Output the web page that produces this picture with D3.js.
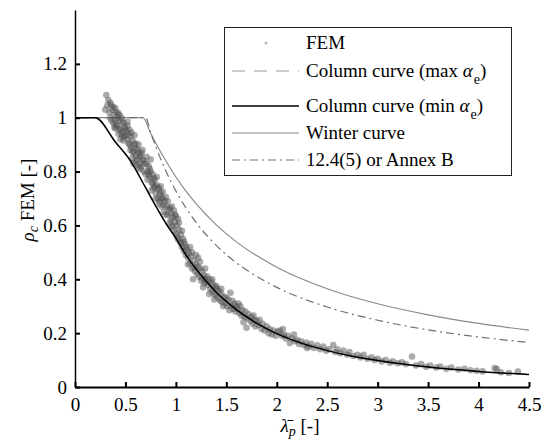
<!DOCTYPE html>
<html lang="en">
<head>
  <meta charset="UTF-8">
  <title>rho_c FEM vs lambda_p</title>
  <style>
    body { margin: 0; background: #fff; }
    svg text { font-family: "Liberation Serif", "Times New Roman", Tinos, Times, "DejaVu Serif", serif !important; }
  </style>
</head>
<body>
  <div id="chart"></div>

  <script src="https://d3js.org/d3.v7.min.js"></script>
  <script>
    // tick values / labels
    const xTicks = [0, 0.5, 1, 1.5, 2, 2.5, 3, 3.5, 4, 4.5];
    const xTickLabels = ["0", "0.5", "1", "1.5", "2", "2.5", "3", "3.5", "4", "4.5"];
    const yTicks = [0, 0.2, 0.4, 0.6, 0.8, 1, 1.2];
    const yTickLabels = ["0", "0.2", "0.4", "0.6", "0.8", "1", "1.2"];

    // Winter curve
    const winterX = [0, 0.673, 0.75, 0.8, 0.9, 1.0, 1.1, 1.2, 1.4, 1.6, 1.8, 2.0, 2.5, 3.0, 3.5, 4.0, 4.5];
    const winterY = [1, 1, 0.942, 0.906, 0.840, 0.780, 0.727, 0.681, 0.602, 0.539, 0.488, 0.445, 0.365, 0.309, 0.268, 0.236, 0.211];

    // 12.4(5) or Annex B
    const annexX = [0, 0.7, 0.75, 0.8, 0.9, 1.0, 1.2, 1.4, 1.6, 1.8, 2.0, 2.5, 3.0, 3.5, 4.0, 4.5];
    const annexY = [1, 1, 0.945, 0.893, 0.803, 0.728, 0.611, 0.526, 0.461, 0.411, 0.370, 0.297, 0.248, 0.212, 0.186, 0.165];

    // column curves
    const colX = [0, 0.2, 0.4, 0.55, 0.7, 0.8, 0.9, 1.0, 1.1, 1.2, 1.3, 1.4, 1.5, 1.6, 1.8, 2.0, 2.25, 2.5, 2.75, 3.0, 3.5, 4.0, 4.5];
    const colMinY = [1, 1, 0.91, 0.84, 0.74, 0.672, 0.608, 0.553, 0.49, 0.438, 0.393, 0.352, 0.318, 0.287, 0.237, 0.198, 0.162, 0.135, 0.114, 0.098, 0.074, 0.058, 0.046];
    const colMaxY = [1, 1, 0.91, 0.84, 0.74, 0.672, 0.608, 0.553, 0.49, 0.438, 0.393, 0.352, 0.318, 0.287, 0.237, 0.198, 0.162, 0.135, 0.114, 0.098, 0.074, 0.058, 0.046];

    // FEM results [lambda_p, rho_c]
    const fem = [
      [0.31,1.084],[0.33,1.066],[0.30,1.03],[0.36,1.047],[0.43,1.017],[0.38,0.98],[0.34,1.02],[0.35,1.00],[0.37,1.03],[0.39,1.01],
      [0.40,0.99],[0.41,1.02],[0.42,0.97],[0.44,0.99],[0.45,0.96],[0.46,1.00],[0.47,0.95],[0.48,0.98],[0.49,0.93],[0.50,0.96],
      [0.40,0.96],[0.43,0.94],[0.45,0.92],[0.38,1.04],[0.41,0.975],[0.47,0.985],[0.36,0.99],[0.44,0.955],[0.50,0.935],[0.49,0.965],
      [0.32,1.045],[0.39,0.965],[0.46,0.94],[0.48,0.915],[0.42,1.00],[0.35,1.055],[0.44,1.01],[0.40,1.035],[0.47,0.93],[0.52,0.985],
      [0.51,0.95],[0.52,0.92],[0.53,0.94],[0.54,0.90],[0.55,0.93],[0.56,0.89],[0.57,0.915],[0.58,0.87],[0.59,0.90],[0.60,0.86],
      [0.61,0.885],[0.62,0.845],[0.63,0.87],[0.64,0.83],[0.65,0.86],[0.66,0.82],[0.67,0.845],[0.68,0.80],[0.69,0.83],[0.70,0.79],
      [0.55,0.88],[0.58,0.83],[0.60,0.905],[0.62,0.88],[0.64,0.855],[0.66,0.87],[0.68,0.84],[0.53,0.905],[0.57,0.85],[0.61,0.825],
      [0.63,0.90],[0.65,0.81],[0.59,0.935],[0.54,0.955],[0.52,0.97],[0.56,0.945],[0.60,0.84],[0.67,0.88],[0.57,0.875],[0.63,0.815],
      [0.71,0.83],[0.72,0.80],[0.73,0.82],[0.74,0.78],[0.75,0.80],[0.76,0.76],[0.77,0.79],[0.78,0.74],[0.79,0.77],[0.80,0.72],
      [0.81,0.75],[0.82,0.70],[0.83,0.74],[0.84,0.69],[0.85,0.72],[0.86,0.67],[0.87,0.70],[0.88,0.65],[0.89,0.69],[0.90,0.64],
      [0.72,0.77],[0.74,0.81],[0.76,0.73],[0.78,0.775],[0.80,0.70],[0.82,0.735],[0.84,0.715],[0.86,0.70],[0.88,0.675],[0.75,0.845],
      [0.79,0.745],[0.83,0.68],[0.71,0.855],[0.77,0.755],[0.81,0.78],[0.85,0.745],[0.73,0.79],[0.87,0.725],
      [0.91,0.67],[0.92,0.64],[0.93,0.66],[0.94,0.61],[0.95,0.645],[0.96,0.60],[0.97,0.63],[0.98,0.58],[0.99,0.615],[1.00,0.57],
      [1.01,0.60],[1.02,0.55],[1.03,0.585],[1.04,0.54],[1.05,0.565],[1.06,0.52],[1.07,0.55],[1.08,0.505],[1.09,0.53],[1.10,0.49],
      [0.92,0.69],[0.95,0.62],[0.97,0.595],[0.99,0.64],[1.01,0.56],[1.03,0.61],[1.05,0.535],[1.08,0.54],[0.94,0.665],[1.00,0.635],
      [0.96,0.67],[0.98,0.655],[1.02,0.625],[1.06,0.58],[0.90,0.705],[1.10,0.52],
      [1.11,0.51],[1.12,0.48],[1.13,0.50],[1.14,0.46],[1.15,0.485],[1.16,0.44],[1.17,0.40],[1.18,0.47],[1.19,0.43],[1.20,0.455],
      [1.21,0.42],[1.22,0.48],[1.23,0.41],[1.24,0.44],[1.25,0.395],[1.26,0.43],[1.27,0.37],[1.28,0.415],[1.29,0.44],[1.30,0.39],
      [1.14,0.52],[1.18,0.445],[1.22,0.445],[1.26,0.405],[1.12,0.455],[1.29,0.40],[1.16,0.50],[1.20,0.49],[1.24,0.465],[1.28,0.385],
      [1.31,0.41],[1.32,0.38],[1.33,0.40],[1.34,0.365],[1.35,0.39],[1.36,0.355],[1.37,0.38],[1.38,0.345],[1.39,0.37],[1.40,0.34],
      [1.41,0.365],[1.42,0.33],[1.43,0.355],[1.44,0.32],[1.45,0.345],[1.46,0.315],[1.47,0.30],[1.48,0.335],[1.49,0.31],[1.50,0.33],
      [1.51,0.30],[1.52,0.325],[1.54,0.35],[1.55,0.30],[1.56,0.32],[1.57,0.29],[1.58,0.31],[1.59,0.28],[1.60,0.30],[1.36,0.40],
      [1.33,0.345],[1.40,0.375],[1.45,0.365],[1.53,0.285],[1.38,0.325],
      [1.61,0.29],[1.62,0.31],[1.63,0.275],[1.64,0.30],[1.65,0.265],[1.66,0.285],[1.68,0.26],[1.69,0.28],[1.70,0.22],[1.71,0.255],
      [1.72,0.27],[1.74,0.245],[1.75,0.26],[1.76,0.235],[1.78,0.25],[1.79,0.225],[1.80,0.245],[1.82,0.23],[1.83,0.25],[1.85,0.215],
      [1.86,0.235],[1.88,0.21],[1.90,0.225],[1.92,0.20],[1.93,0.215],[1.95,0.195],[1.97,0.21],[1.99,0.19],[1.67,0.24],[1.77,0.265],
      [2.01,0.205],[2.03,0.21],[2.05,0.19],[2.07,0.195],[2.09,0.18],[2.11,0.19],[2.13,0.163],[2.15,0.18],[2.18,0.17],[2.20,0.175],
      [2.22,0.16],[2.24,0.17],[2.27,0.155],[2.29,0.165],[2.32,0.15],[2.34,0.16],[2.37,0.145],[2.40,0.155],[2.43,0.14],[2.46,0.15],
      [2.49,0.135],[2.52,0.14],[2.56,0.156],[2.58,0.13],[2.60,0.14],[2.06,0.215],[2.17,0.195],[2.30,0.145],
      [2.63,0.125],[2.66,0.135],[2.70,0.12],[2.72,0.13],[2.76,0.115],[2.80,0.12],[2.83,0.11],[2.86,0.12],[2.90,0.105],[2.94,0.11],
      [2.97,0.10],[3.00,0.105],[3.04,0.095],[3.08,0.10],[3.12,0.09],[3.15,0.095],[3.20,0.088],[3.24,0.092],[3.28,0.085],[3.34,0.113],
      [3.38,0.08],[3.43,0.085],[3.48,0.075],[3.52,0.08],[3.58,0.072],[3.62,0.076],[3.68,0.068],[3.73,0.072],[3.80,0.065],[3.86,0.068],
      [3.92,0.062],[3.98,0.06],[4.04,0.058],[4.16,0.07],[4.18,0.067],[4.22,0.055],[4.30,0.052],[4.39,0.057]
    ];

    const width = 549, height = 444;
    const fs = 19;
    const serif = '"Liberation Serif", "Times New Roman", Tinos, Times, "DejaVu Serif", serif';

    const svg = d3.select("#chart").append("svg")
      .attr("width", width)
      .attr("height", height)
      .attr("font-family", serif);

    const x = d3.scaleLinear().domain([0, 4.5]).range([75, 529]);
    const y = d3.scaleLinear().domain([0, 1.4]).range([387, 10]);

    const zip = (xs, ys) => xs.map((v, i) => [v, ys[i]]);
    const line = d3.line().x(d => x(d[0])).y(d => y(d[1])).curve(d3.curveMonotoneX);

    // reference curves
    svg.append("path").datum(zip(colX, colMaxY))
      .attr("d", line).attr("fill", "none")
      .attr("stroke", "#999").attr("stroke-width", 1.2).attr("stroke-dasharray", "13,9");
    svg.append("path").datum(zip(winterX, winterY))
      .attr("d", line).attr("fill", "none")
      .attr("stroke", "#8a8a8a").attr("stroke-width", 1.2);
    svg.append("path").datum(zip(annexX, annexY))
      .attr("d", line).attr("fill", "none")
      .attr("stroke", "#707070").attr("stroke-width", 1.2).attr("stroke-dasharray", "8,4,2,4");

    // FEM points
    svg.append("g").selectAll("circle")
      .data(fem)
      .join("circle")
      .attr("cx", d => x(d[0]))
      .attr("cy", d => y(d[1]))
      .attr("r", 3.3)
      .attr("fill", "#505050")
      .attr("fill-opacity", 0.48);

    // column curve min on top
    svg.append("path").datum(zip(colX, colMinY))
      .attr("d", line).attr("fill", "none")
      .attr("stroke", "#000").attr("stroke-width", 1.5);

    // axes
    const xAxis = svg.append("g")
      .attr("transform", `translate(0,${y(0)})`)
      .call(d3.axisBottom(x).tickValues(xTicks).tickFormat((d, i) => xTickLabels[i])
        .tickSizeInner(-5).tickSizeOuter(0).tickPadding(11));
    xAxis.select(".domain").attr("stroke-width", 2.2);
    xAxis.selectAll(".tick line").attr("stroke-width", 2);

    const yAxis = svg.append("g")
      .attr("transform", `translate(${x(0)},0)`)
      .call(d3.axisLeft(y).tickValues(yTicks).tickFormat((d, i) => yTickLabels[i])
        .tickSizeInner(-5).tickSizeOuter(0).tickPadding(8));
    yAxis.select(".domain").attr("stroke-width", 1.5);
    yAxis.selectAll(".tick line").attr("stroke-width", 2);

    svg.selectAll("g").attr("font-family", serif);
    svg.selectAll(".tick text")
      .attr("font-size", fs)
      .attr("fill", "#000");

    // axis titles
    const xl = svg.append("text")
      .attr("x", 300).attr("y", 432)
      .attr("text-anchor", "middle")
      .attr("font-size", fs);
    xl.append("tspan").attr("font-style", "italic").text("\u03BB\u0304");
    xl.append("tspan").attr("font-style", "italic").attr("font-size", 14).attr("dy", 4).text("p");
    xl.append("tspan").attr("dy", -4).text(" [-]");

    const yl = svg.append("text")
      .attr("transform", "translate(34,200) rotate(-90)")
      .attr("text-anchor", "middle")
      .attr("font-size", fs);
    yl.append("tspan").attr("font-style", "italic").text("\u03C1");
    yl.append("tspan").attr("font-style", "italic").attr("font-size", 14).attr("dy", 4).text("c");
    yl.append("tspan").attr("dy", -4).text(" FEM [-]");

    // legend
    const lg = svg.append("g");
    lg.append("rect")
      .attr("x", 224.5).attr("y", 27.5).attr("width", 287).attr("height", 148)
      .attr("fill", "#fff").attr("stroke", "#222").attr("stroke-width", 1);

    const rows = [
      { key: "fem", yy: 43 },
      { key: "max", yy: 71 },
      { key: "min", yy: 106 },
      { key: "winter", yy: 133 },
      { key: "annex", yy: 160 }
    ];
    const lx0 = 232, lx1 = 299, tx = 306;

    rows.forEach(r => {
      if (r.key === "fem") {
        lg.append("circle").attr("cx", 266).attr("cy", r.yy).attr("r", 1.6).attr("fill", "#bbb");
      } else {
        const ln = lg.append("line").attr("x1", lx0).attr("x2", lx1).attr("y1", r.yy).attr("y2", r.yy)
          .attr("stroke-width", 1.2);
        if (r.key === "max") ln.attr("stroke", "#999").attr("stroke-dasharray", "13,9");
        if (r.key === "min") ln.attr("stroke", "#000").attr("stroke-width", 1.5);
        if (r.key === "winter") ln.attr("stroke", "#8a8a8a");
        if (r.key === "annex") ln.attr("stroke", "#707070").attr("stroke-dasharray", "8,4,2,4");
      }
      const t = lg.append("text").attr("x", tx).attr("y", r.yy).attr("dy", "0.33em").attr("font-size", fs);
      if (r.key === "fem") t.text("FEM");
      if (r.key === "winter") t.text("Winter curve");
      if (r.key === "annex") t.text("12.4(5) or Annex B");
      if (r.key === "max" || r.key === "min") {
        t.append("tspan").text("Column curve (" + r.key + " ");
        t.append("tspan").attr("font-style", "italic").text("\u03B1");
        t.append("tspan").attr("font-size", 14).attr("dy", 7).attr("dx", 1).text("e");
        t.append("tspan").attr("dy", -7).text(")");
      }
    });
  </script>
</body>
</html>
